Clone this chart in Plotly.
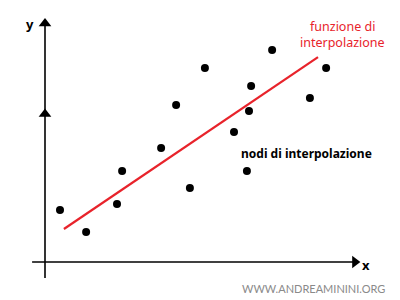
import plotly.graph_objects as go

# data (units: arbitrary, origin at axes crossing)
node_x = [0.5, 1.37, 2.4, 2.57, 3.87, 4.37, 4.83, 5.33, 6.3, 6.73, 6.8, 6.87, 7.57, 8.83, 9.37]
node_y = [1.73, 1.0, 1.93, 3.03, 3.8, 5.23, 2.47, 6.47, 4.33, 3.03, 5.03, 5.87, 7.07, 5.47, 6.47]
fit_x = [0.63, 9.1]
fit_y = [1.1, 6.83]

x_axis_span = [-0.43, 10.3]
y_axis_span = [-0.53, 7.9]
RED = "#e8232b"

fig = go.Figure()

# axes lines
fig.add_trace(go.Scatter(x=x_axis_span, y=[0, 0], mode="lines",
                         line=dict(color="black", width=1.6), hoverinfo="skip"))
fig.add_trace(go.Scatter(x=[0, 0], y=y_axis_span, mode="lines",
                         line=dict(color="black", width=1.6), hoverinfo="skip"))
# arrowheads
fig.add_trace(go.Scatter(x=[0, 0], y=[7.95, 4.93], mode="markers",
                         marker=dict(symbol="triangle-up", size=11, color="black"), hoverinfo="skip"))
fig.add_trace(go.Scatter(x=[10.33], y=[0], mode="markers",
                         marker=dict(symbol="triangle-right", size=11, color="black"), hoverinfo="skip"))

# interpolation function
fig.add_trace(go.Scatter(x=fit_x, y=fit_y, mode="lines",
                         line=dict(color=RED, width=2.2), hoverinfo="skip"))
# nodes
fig.add_trace(go.Scatter(x=node_x, y=node_y, mode="markers",
                         marker=dict(size=8, color="black"), hoverinfo="skip"))

ann = [
    dict(x=-0.5, y=7.93, text="<b>y</b>", font=dict(size=13, color="black", family="Noto Sans")),
    dict(x=10.7, y=-0.1, text="<b>x</b>", font=dict(size=13, color="black", family="Noto Sans")),
    dict(x=9.9, y=7.85, text="funzione di", font=dict(size=12.5, color=RED, family="Noto Sans")),
    dict(x=9.9, y=7.32, text="interpolazione", font=dict(size=12.5, color=RED, family="Noto Sans")),
    dict(x=8.73, y=3.6, text="<b>nodi di interpolazione</b>", font=dict(size=12, color="black", family="Noto Sans")),
    dict(x=8.94, y=-0.9, text="WWW.ANDREAMININI.ORG", font=dict(size=11, color="#8a8a8a", family="Lato")),
]
for a in ann:
    fig.add_annotation(xref="x", yref="y", showarrow=False, **a)

fig.update_layout(
    width=400, height=300, autosize=False,
    margin=dict(l=0, r=0, t=0, b=0),
    paper_bgcolor="white", plot_bgcolor="white",
    showlegend=False,
    xaxis=dict(range=[-1.5, 11.833], visible=False, fixedrange=True),
    yaxis=dict(range=[-1.267, 8.733], visible=False, fixedrange=True),
)

fig.write_html("out.html", config={"displayModeBar": False})
